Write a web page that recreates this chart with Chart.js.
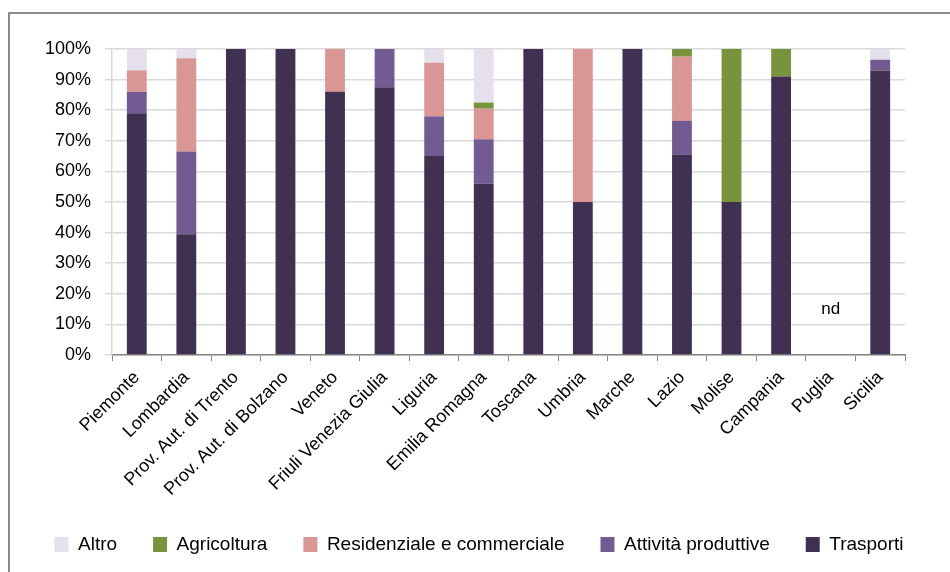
<!DOCTYPE html>
<html>
<head>
<meta charset="utf-8">
<script src="https://cdn.jsdelivr.net/npm/chart.js@4/dist/chart.umd.min.js"></script>
<style>
  html, body { margin: 0; padding: 0; background: #fff; }
  #wrap { position: relative; width: 950px; height: 572px; }
  canvas { display: block; }
</style>
</head>
<body>
<div id="wrap"><canvas id="c" width="950" height="572"></canvas></div>
<script>
const categories = ['Piemonte','Lombardia','Prov. Aut. di Trento','Prov. Aut. di Bolzano','Veneto','Friuli Venezia Giulia','Liguria','Emilia Romagna','Toscana','Umbria','Marche','Lazio','Molise','Campania','Puglia','Sicilia'];
const trasporti    = [79, 39.5, 100, 100, 86, 87.5, 65, 56, 100, 50, 100, 65.5, 50, 91, null, 93];
const attivita     = [7, 27, 0, 0, 0, 12.5, 13, 14.5, 0, 0, 0, 11, 0, 0, null, 3.5];
const residenziale = [7, 30.5, 0, 0, 14, 0, 17.5, 10, 0, 50, 0, 21, 0, 0, null, 0];
const agricoltura  = [0, 0, 0, 0, 0, 0, 0, 2, 0, 0, 0, 2.5, 50, 9, null, 0];
const altro        = [7, 3, 0, 0, 0, 0, 4.5, 17.5, 0, 0, 0, 0, 0, 0, null, 3.5];
const seriesNames  = ['Trasporti','Attività produttive','Residenziale e commerciale','Agricoltura','Altro'];
const noDataLabel  = 'nd';
const noDataIndex  = 14;
const noDataY      = 15;
const yTicks       = [0,10,20,30,40,50,60,70,80,90,100];

const FONT = "'Liberation Sans', Arial, sans-serif";

const frame = {
  id: 'frame',
  beforeDraw(chart) {
    const ctx = chart.ctx;
    ctx.save();
    ctx.fillStyle = '#fff';
    ctx.fillRect(0, 0, chart.width, chart.height);
    ctx.strokeStyle = '#8c8c8c';
    ctx.lineWidth = 2;
    ctx.beginPath();
    ctx.moveTo(9, 572);
    ctx.lineTo(9, 13);
    ctx.lineTo(950, 13);
    ctx.stroke();
    ctx.restore();
  }
};

const ndPlugin = {
  id: 'nd',
  afterDatasetsDraw(chart) {
    const ctx = chart.ctx;
    const x = chart.scales.x.getPixelForValue(noDataIndex);
    const y = chart.scales.y.getPixelForValue(noDataY);
    ctx.save();
    ctx.font = "17px " + FONT;
    ctx.fillStyle = '#000';
    ctx.textAlign = 'center';
    ctx.textBaseline = 'middle';
    ctx.fillText(noDataLabel, x, y);
    ctx.restore();
  }
};

const colors = ['#403152', '#725A92', '#D99694', '#77933C', '#E5E0EC'];
const dataArrays = [trasporti, attivita, residenziale, agricoltura, altro];

new Chart(document.getElementById('c'), {
  type: 'bar',
  data: {
    labels: categories,
    datasets: seriesNames.map((n, i) => ({
      label: n,
      data: dataArrays[i],
      backgroundColor: colors[i],
      borderWidth: 0,
      barPercentage: 0.4,
      categoryPercentage: 1.0
    }))
  },
  options: {
    responsive: false,
    animation: false,
    layout: { padding: { top: 49, right: 0, left: 8, bottom: 8 } },
    plugins: {
      legend: {
        position: 'bottom',
        reverse: true,
        labels: {
          boxWidth: 14,
          boxHeight: 15,
          padding: 36,
          color: '#000',
          font: { family: FONT, size: 19 }
        }
      },
      tooltip: { enabled: false }
    },
    scales: {
      x: {
        stacked: true,
        grid: { display: true, drawOnChartArea: false, drawTicks: true, tickLength: 6, color: '#868686', offset: true },
        border: { display: true, color: '#868686', width: 1.5 },
        ticks: {
          color: '#000',
          font: { family: FONT, size: 18 },
          maxRotation: 45, minRotation: 45,
          autoSkip: false,
          padding: 6
        },
        afterFit(scale) { scale.height = 144; }
      },
      y: {
        stacked: true,
        min: 0, max: 100,
        afterBuildTicks(scale) { scale.ticks = yTicks.map(v => ({ value: v })); },
        grid: { color: '#d9d9d9', lineWidth: 1.5, tickLength: 7 },
        border: { display: true, color: '#d9d9d9', width: 1.5 },
        ticks: {
          color: '#000',
          font: { family: FONT, size: 18 },
          padding: 14,
          callback: v => v + '%'
        },
        afterFit(scale) { scale.width = 104; }
      },
      yRight: {
        position: 'right',
        display: true,
        min: 0, max: 100,
        grid: { display: false, drawTicks: false },
        border: { display: false },
        ticks: { display: false },
        afterFit(scale) { scale.width = 45; }
      }
    }
  },
  plugins: [frame, ndPlugin]
});
</script>
</body>
</html>
